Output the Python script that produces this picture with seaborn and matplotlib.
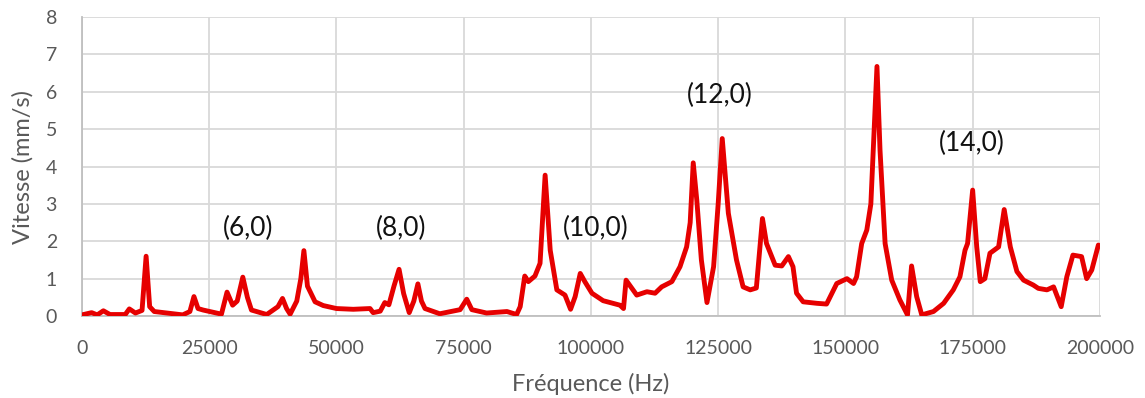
import matplotlib
matplotlib.use("Agg")
import matplotlib.pyplot as plt
import seaborn as sns
import pandas as pd

freq_hz = [0, 1900, 3000, 4200, 5500, 8500, 9300, 10500, 11800, 12600, 13300, 14200,
           19800, 21200, 22000, 22800, 23800, 27400, 28500, 29600, 30500, 31600, 32500,
           33300, 36300, 38500, 39400, 40200, 40900, 42200, 43000, 43600, 44300, 45800,
           47400, 50000, 53300, 56600, 57200, 58600, 59500, 60300, 61300, 62300, 63200,
           64300, 65200, 66000, 66700, 67400, 70300, 74300, 75600, 76600, 79500, 83500,
           85400, 86100, 87000, 87700, 89000, 90000, 91000, 92000, 93300, 94900, 96000,
           96900, 97900, 98800, 100200, 102400, 105700, 106400, 106900, 109000, 111000,
           112600, 113900, 115900, 117500, 118800, 119500, 120100, 120800, 121700, 122800,
           124100, 125000, 125800, 127000, 128600, 129900, 131300, 132500, 133700, 134500,
           136200, 137500, 138800, 139700, 140400, 141700, 144400, 146300, 148300, 150300,
           151600, 152200, 153200, 154200, 155000, 156200, 156800, 157800, 159100, 160700,
           162200, 163000, 164000, 165000, 167300, 169300, 171200, 172500, 173500, 174000,
           175000, 175800, 176500, 177400, 178400, 180100, 181200, 182400, 183700, 185000,
           186900, 187900, 189600, 190900, 192400, 193500, 194700, 196400, 197400, 198400,
           199700]
vitesse = [0.03, 0.09, 0.03, 0.14, 0.04, 0.04, 0.19, 0.08, 0.15, 1.6, 0.25, 0.12,
           0.03, 0.12, 0.52, 0.2, 0.16, 0.05, 0.64, 0.29, 0.4, 1.04, 0.5,
           0.16, 0.04, 0.25, 0.47, 0.2, 0.05, 0.4, 1.0, 1.75, 0.8, 0.38,
           0.28, 0.2, 0.18, 0.2, 0.09, 0.13, 0.36, 0.3, 0.8, 1.25, 0.6,
           0.09, 0.4, 0.86, 0.4, 0.2, 0.06, 0.17, 0.45, 0.17, 0.08, 0.12,
           0.04, 0.25, 1.07, 0.92, 1.07, 1.41, 3.77, 1.76, 0.70, 0.56, 0.18,
           0.52, 1.14, 0.92, 0.61, 0.41, 0.29, 0.2, 0.96, 0.56, 0.65,
           0.61, 0.78, 0.92, 1.32, 1.85, 2.5, 4.1, 3.1, 1.5, 0.36,
           1.32, 3.0, 4.75, 2.75, 1.5, 0.78, 0.7, 0.75, 2.61, 1.94,
           1.36, 1.34, 1.59, 1.32, 0.61, 0.38, 0.34, 0.32, 0.87, 1.0,
           0.87, 1.05, 1.94, 2.3, 3.0, 6.68, 4.44, 1.94, 0.96, 0.43,
           0.03, 1.34, 0.52, 0.03, 0.12, 0.34, 0.70, 1.05, 1.76, 1.94,
           3.37, 1.85, 0.92, 1.0, 1.68, 1.85, 2.85, 1.85, 1.19, 0.96,
           0.83, 0.74, 0.7, 0.78, 0.25, 1.05, 1.63, 1.59, 1.0, 1.23,
           1.9]

mode_labels = ["(6,0)", "(8,0)", "(10,0)", "(12,0)", "(14,0)"]
mode_x = [32600, 62700, 101000, 125400, 174900]
mode_y = [2.33, 2.33, 2.33, 5.9, 4.63]

x_ticks = [0, 25000, 50000, 75000, 100000, 125000, 150000, 175000, 200000]
y_ticks = [0, 1, 2, 3, 4, 5, 6, 7, 8]

sns.set_theme(style="whitegrid")
plt.rcParams['font.family'] = ['Lato', 'DejaVu Sans']

df = pd.DataFrame({"Fréquence (Hz)": freq_hz, "Vitesse (mm/s)": vitesse})

fig = plt.figure(figsize=(11.45, 3.98), dpi=100)
ax = fig.add_axes([0.0716, 0.206, 0.889, 0.751])
sns.lineplot(data=df, x="Fréquence (Hz)", y="Vitesse (mm/s)", ax=ax,
             color="#E60000", linewidth=3.5, zorder=3)
for ln in ax.lines:
    ln.set_solid_joinstyle("round")
    ln.set_solid_capstyle("round")

for lab, xx, yy in zip(mode_labels, mode_x, mode_y):
    ax.text(xx, yy, lab, ha="center", va="center", fontsize=19, color="#111111")

ax.set_xlim(0, 200000)
ax.set_ylim(0, 8)
ax.set_xticks(x_ticks)
ax.set_xticklabels([str(t) for t in x_ticks])
ax.set_yticks(y_ticks)
ax.set_yticklabels([str(t) for t in y_ticks])
ax.tick_params(axis="both", labelsize=14, colors="#595959", length=0)
ax.tick_params(axis="x", pad=17)
ax.tick_params(axis="y", pad=18)
ax.set_xlabel("Fréquence (Hz)", fontsize=17, color="#595959", labelpad=12)
ax.set_ylabel("Vitesse (mm/s)", fontsize=17, color="#595959", labelpad=9)
ax.grid(True, color="#D9D9D9", linewidth=1.3)
ax.set_facecolor("white")
for side in ["top", "right"]:
    ax.spines[side].set_visible(False)
for side in ["left", "bottom"]:
    ax.spines[side].set_visible(True)
    ax.spines[side].set_color("#BFBFBF")
    ax.spines[side].set_linewidth(1.3)

fig.savefig("out.png", dpi=100, facecolor="white")
